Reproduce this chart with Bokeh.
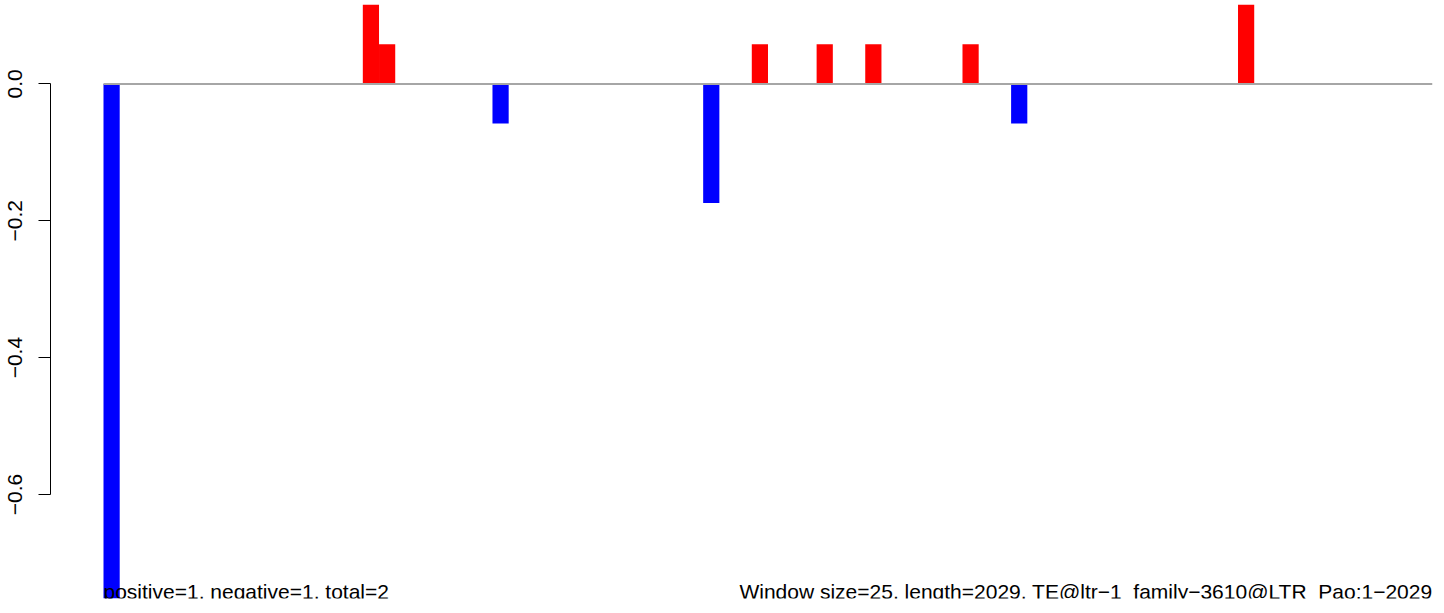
import math
from bokeh.plotting import figure
from bokeh.models import FixedTicker, Label, ColumnDataSource, CustomJSTickFormatter, LinearAxis
from bokeh.embed import file_html
from bokeh.resources import INLINE

# ---- data ----
n_windows = 82
bar_index = [0, 16, 17, 24, 37, 40, 44, 47, 53, 56, 70]
bar_value = [-0.752, 0.116, 0.058, -0.058, -0.174, 0.058, 0.058, 0.058, 0.058, -0.058, 0.116]
y_ticks = [0.0, -0.2, -0.4, -0.6]
y_tick_labels = ["0.0", "\u22120.2", "\u22120.4", "\u22120.6"]
left_text = "positive=1, negative=1, total=2"
right_text = "Window size=25, length=2029, TE@ltr\u22121_family\u22123610@LTR_Pao:1\u22122029"

ymin = min(bar_value)
ymax = max(bar_value)

colors = ["#0000FF" if v < 0 else "#FF0000" for v in bar_value]
src = ColumnDataSource(dict(x=[i + 0.5 for i in bar_index], top=bar_value, color=colors))

p = figure(width=1436, height=605, output_backend="svg", toolbar_location=None,
           x_range=(-3.27, n_windows), y_range=(ymin, ymax),
           x_axis_type=None, y_axis_type=None,
           min_border_left=50, min_border_right=4, min_border_top=4, min_border_bottom=7)
p.outline_line_color = None
p.grid.visible = False
p.background_fill_color = "white"

ax = LinearAxis(ticker=FixedTicker(ticks=y_ticks), bounds=(min(y_ticks), max(y_ticks)))
ax.formatter = CustomJSTickFormatter(args=dict(t=y_ticks, l=y_tick_labels), code="""
const i = t.findIndex(v => Math.abs(v - tick) < 1e-9);
return i >= 0 ? l[i] : '';
""")
ax.major_label_orientation = "vertical"
ax.major_tick_out = 12
ax.major_tick_in = 0
ax.minor_tick_out = 0
ax.minor_tick_in = 0
ax.major_label_standoff = 16
ax.axis_line_color = "black"
ax.major_tick_line_color = "black"
ax.major_label_text_font = "Liberation Sans"
ax.major_label_text_font_size = "21px"
ax.major_label_text_color = "black"
p.add_layout(ax, "left")

p.vbar(x="x", top="top", bottom=0, width=1.0, color="color", source=src, line_width=0)
p.segment(x0=[0], y0=[0], x1=[n_windows], y1=[0], line_color="#A6A6A6", line_width=2)

p.add_layout(Label(x=0, y=ymin, y_offset=-4, text=left_text, text_align="left",
                   text_baseline="bottom", text_font="Liberation Sans",
                   text_font_size="21px", text_color="black"))
p.add_layout(Label(x=n_windows, y=ymin, y_offset=-4, text=right_text, text_align="right",
                   text_baseline="bottom", text_font="Liberation Sans",
                   text_font_size="21px", text_color="black"))

open("out.html", "w").write(file_html(p, INLINE))
